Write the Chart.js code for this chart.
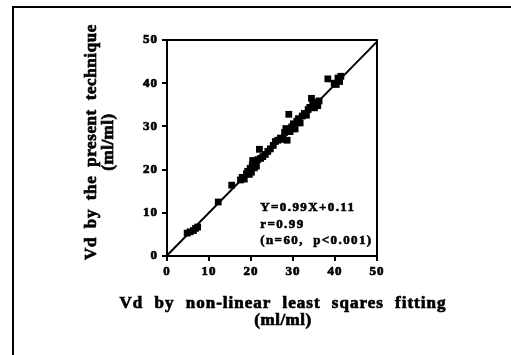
<!DOCTYPE html>
<html>
<head>
<meta charset="utf-8">
<script src="https://cdn.jsdelivr.net/npm/chart.js@4.4.0/dist/chart.umd.min.js"></script>
<style>
  html, body { margin: 0; padding: 0; background: #fff; }
  #wrap { width: 511px; height: 355px; }
</style>
</head>
<body>
<div id="wrap"><canvas id="chartVd" width="511" height="355"></canvas></div>
<script>
// Vd: present technique vs non-linear least squares fitting (n=60)

const vdNonLinear = [
  4.8, 5.5, 6.3, 6.8, 7.3, 12.2, 15.4, 17.5, 17.9, 18.4,
  18.9, 19.2, 19.6, 19.8, 20.1, 20.3, 20.4, 20.8, 21.0, 21.3,
  21.6, 22.0, 22.3, 22.8, 23.4, 24.0, 24.6, 25.3, 25.8, 26.4,
  27.0, 27.6, 28.0, 28.3, 28.6, 29.0, 29.3, 29.7, 30.1, 30.5,
  30.9, 31.3, 31.7, 32.2, 32.7, 33.2, 33.6, 34.0, 34.4, 34.7,
  35.1, 35.5, 35.9, 36.2, 38.3, 39.8, 40.3, 40.7, 41.1, 41.4
];
const vdPresent = [
  5.3, 5.6, 5.9, 6.4, 6.7, 12.5, 16.4, 17.6, 18.2, 17.8,
  19.0, 19.6, 18.9, 20.3, 19.4, 21.0, 22.1, 20.4, 21.6, 20.8,
  22.3, 24.7, 22.6, 23.0, 23.5, 24.2, 24.8, 25.6, 26.5, 26.8,
  27.3, 27.0, 28.6, 29.5, 26.8, 32.8, 28.8, 29.9, 30.6, 29.4,
  31.2, 31.8, 30.8, 32.4, 33.0, 32.6, 33.9, 34.4, 36.5, 35.2,
  34.3, 35.6, 34.8, 35.9, 41.0, 40.0, 39.7, 41.2, 40.4, 41.6
];

// regression line Y = 0.99X + 0.11, drawn over the axis range
const fitX = [0, 50];
const fitY = [0.11, 49.61];

const axisTicks = [0, 10, 20, 30, 40, 50];
const statsText = ['Y=0.99X+0.11', 'r=0.99', '(n=60,  p<0.001)'];
const xTitle = ['Vd by non-linear least sqares fitting', '(ml/ml)'];
const yTitle = ['Vd by the present technique', '(ml/ml)'];

const serif = '"Liberation Serif", "Times New Roman", serif';

const puntos = vdNonLinear.map((x, i) => ({ x: x, y: vdPresent[i] }));
const recta = fitX.map((x, i) => ({ x: x, y: fitY[i] }));

// texto grueso como el de la copia escaneada
function textoGrueso(ctx, t, x, y) {
  ctx.fillText(t, x, y);
  ctx.strokeText(t, x, y);
}

const marcoPlugin = {
  id: 'marco',
  beforeDraw(chart) {
    const ctx = chart.ctx;
    ctx.save();
    ctx.strokeStyle = '#000';
    ctx.lineWidth = 2;
    ctx.beginPath();
    ctx.moveTo(12, 7);
    ctx.lineTo(511, 7);
    ctx.moveTo(13, 7);
    ctx.lineTo(13, 355);
    ctx.stroke();
    ctx.restore();
    ctx.letterSpacing = '1px';
  },
  afterDatasetsDraw(chart) {
    const ctx = chart.ctx;
    const a = chart.chartArea;
    const sx = chart.scales.x, sy = chart.scales.y;
    ctx.save();
    ctx.strokeStyle = '#000';
    ctx.lineWidth = 2;
    ctx.strokeRect(a.left, a.top, a.right - a.left, a.bottom - a.top);

    ctx.fillStyle = '#000';
    ctx.lineWidth = 0.6;
    ctx.font = 'bold 13px ' + serif;
    ctx.letterSpacing = '1.4px';
    ctx.textAlign = 'left';
    ctx.textBaseline = 'middle';
    const x0 = sx.getPixelForValue(22.2);
    const y0 = sy.getPixelForValue(11.6) + 2;
    statsText.forEach((t, i) => textoGrueso(ctx, t, x0, y0 + i * 16.5));
    ctx.restore();
  },
  afterDraw(chart) {
    const ctx = chart.ctx;
    const a = chart.chartArea;
    ctx.letterSpacing = '0px';
    ctx.save();
    ctx.fillStyle = '#000';
    ctx.strokeStyle = '#000';
    ctx.lineWidth = 0.7;
    ctx.textAlign = 'center';
    ctx.textBaseline = 'middle';
    ctx.font = 'bold 17px ' + serif;

    // x title
    const cx = (a.left + a.right) / 2 + 11;
    ctx.letterSpacing = '1px';
    ctx.wordSpacing = '6px';
    textoGrueso(ctx, xTitle[0], cx, a.bottom + 48);
    ctx.letterSpacing = '0.5px';
    ctx.wordSpacing = '0px';
    textoGrueso(ctx, xTitle[1], cx, a.bottom + 65);

    // y title
    ctx.translate(0, (a.top + a.bottom) / 2 - 6);
    ctx.rotate(-Math.PI / 2);
    ctx.letterSpacing = '0.6px';
    ctx.wordSpacing = '4px';
    textoGrueso(ctx, yTitle[0], 0, 92);
    ctx.letterSpacing = '0.5px';
    ctx.wordSpacing = '0px';
    textoGrueso(ctx, yTitle[1], 0, 109);
    ctx.restore();
  }
};

const tickFont = { family: serif, size: 13, weight: 'bold' };

new Chart(document.getElementById('chartVd').getContext('2d'), {
  type: 'scatter',
  data: {
    datasets: [{
      label: 'Vd',
      data: puntos,
      pointStyle: 'rect',
      pointRadius: 4.8,
      backgroundColor: '#000',
      borderColor: '#000',
      borderWidth: 0
    }, {
      type: 'line',
      label: 'fit',
      data: recta,
      borderColor: '#000',
      borderWidth: 2,
      pointRadius: 0,
      fill: false
    }]
  },
  options: {
    responsive: false,
    animation: false,
    layout: { padding: { left: 70, top: 40, right: 134, bottom: 10 } },
    plugins: {
      legend: { display: false },
      tooltip: { enabled: false }
    },
    scales: {
      x: {
        type: 'linear',
        min: 0, max: 50,
        afterBuildTicks(scale) { scale.ticks = axisTicks.map(v => ({ value: v })); },
        afterFit(scale) { scale.height = 89; },
        border: { display: true, color: '#000', width: 2 },
        grid: { drawOnChartArea: false, drawTicks: true, tickLength: 5, color: '#000', lineWidth: 2 },
        ticks: { color: '#000', padding: 3, maxRotation: 0, font: tickFont, textStrokeColor: '#000', textStrokeWidth: 0.7 }
      },
      y: {
        type: 'linear',
        min: 0, max: 50,
        afterBuildTicks(scale) { scale.ticks = axisTicks.map(v => ({ value: v })); },
        afterFit(scale) { scale.width = 97; },
        border: { display: true, color: '#000', width: 2 },
        grid: { drawOnChartArea: false, drawTicks: true, tickLength: 5, color: '#000', lineWidth: 2 },
        ticks: { color: '#000', padding: 4, font: tickFont, textStrokeColor: '#000', textStrokeWidth: 0.7 }
      }
    }
  },
  plugins: [marcoPlugin]
});
</script>
</body>
</html>
